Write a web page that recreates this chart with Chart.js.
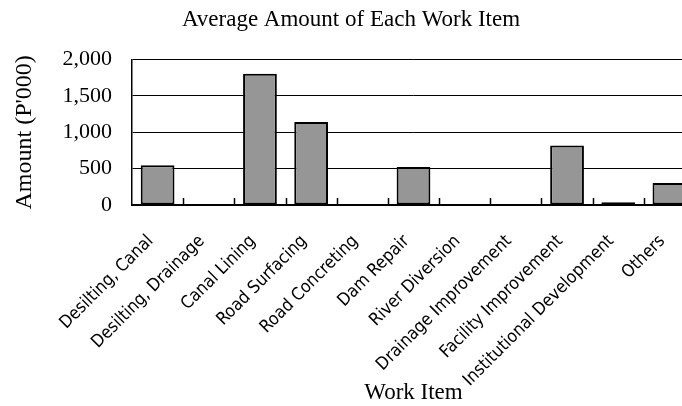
<!DOCTYPE html>
<html>
<head>
<meta charset="utf-8">
<script src="https://cdn.jsdelivr.net/npm/chart.js@4"></script>
<style>
  html, body { margin: 0; padding: 0; background: #fff; overflow: hidden; }
  #wrap { width: 700px; height: 406px; }
</style>
</head>
<body>
<div id="wrap"><canvas id="workItemChart" width="700" height="406"></canvas></div>
<script>
// Average amount per work item, in P'000
const workItems = [
    'Desilting, Canal', 'Desilting, Drainage', 'Canal Lining', 'Road Surfacing',
    'Road Concreting', 'Dam Repair', 'River Diversion', 'Drainage Improvement',
    'Facility Improvement', 'Institutional Development', 'Others'
];
const averageAmounts = [547, 0, 1804, 1143, 0, 523, 0, 0, 818, 37, 303];
const yTicks = [0, 500, 1000, 1500, 2000];

const serif = "'Liberation Serif', 'Times New Roman', serif";
const labelFont = "'DejaVu Sans Condensed', 'Liberation Sans Narrow', 'Liberation Sans', sans-serif";

// small tick marks between categories, pointing up from the x axis
const categoryTicks = {
    id: 'categoryTicks',
    afterDatasetsDraw(chart) {
        const x = chart.scales.x;
        const c = chart.ctx;
        const n = chart.data.labels.length;
        const half = (x.getPixelForValue(1) - x.getPixelForValue(0)) / 2;
        c.save();
        c.strokeStyle = '#000';
        c.lineWidth = 1.5;
        c.beginPath();
        for (let i = 0; i < n; i++) {
            const px = Math.round(x.getPixelForValue(i) + half) + 0.5;
            c.moveTo(px, x.top);
            c.lineTo(px, x.top - 7);
        }
        c.stroke();
        c.restore();
    }
};

const ctx = document.getElementById('workItemChart').getContext('2d');
new Chart(ctx, {
    type: 'bar',
    data: {
        labels: workItems,
        datasets: [{
            label: 'Average Amount',
            data: averageAmounts,
            backgroundColor: '#969696',
            borderColor: '#000000',
            borderWidth: 2,
            borderSkipped: false,
            categoryPercentage: 1.0,
            barPercentage: 0.66
        }]
    },
    plugins: [categoryTicks],
    options: {
        responsive: false,
        animation: false,
        layout: {
            padding: { left: 7, right: 5, top: 0, bottom: 0 }
        },
        plugins: {
            legend: { display: false },
            tooltip: { enabled: false },
            title: {
                display: true,
                text: 'Average Amount of Each Work Item',
                color: '#000',
                font: { family: serif, size: 23, weight: 'normal' },
                padding: { top: 6, bottom: 26 }
            }
        },
        scales: {
            x: {
                afterFit: scale => {
                    scale.height = 201;
                    scale.paddingLeft = 0;
                    scale.paddingRight = 0;
                },
                grid: {
                    display: false
                },
                border: { color: '#000', width: 2 },
                ticks: {
                    color: '#000',
                    autoSkip: false,
                    maxRotation: 45,
                    minRotation: 45,
                    padding: 18,
                    labelOffset: -7,
                    font: { family: labelFont, size: 17.5 }
                },
                title: {
                    display: true,
                    text: 'Work Item',
                    color: '#000',
                    font: { family: serif, size: 23, lineHeight: 1.1 },
                    padding: { top: 0, bottom: 0 }
                }
            },
            y: {
                min: 0,
                max: 2000,
                afterFit: scale => { scale.width = 125; },
                afterBuildTicks: scale => { scale.ticks = yTicks.map(v => ({ value: v })); },
                grid: {
                    color: '#000',
                    lineWidth: 1,
                    drawTicks: false
                },
                border: { color: '#000', width: 1.5 },
                ticks: {
                    color: '#000',
                    padding: 20,
                    font: { family: serif, size: 22 }
                },
                title: {
                    display: true,
                    text: "Amount (P'000)",
                    color: '#000',
                    font: { family: serif, size: 24 },
                    padding: { top: 3, bottom: 0 }
                }
            }
        }
    }
});
</script>
</body>
</html>
